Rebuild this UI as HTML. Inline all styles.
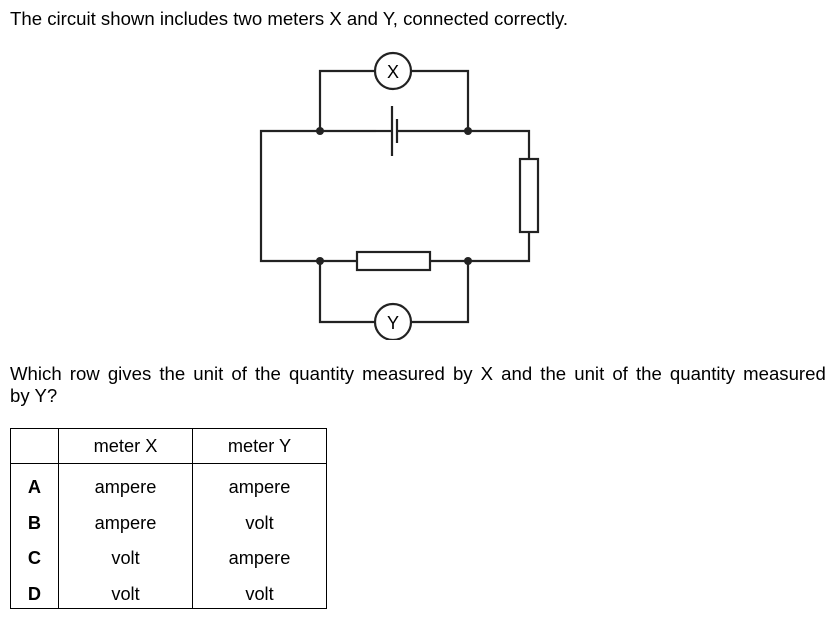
<!DOCTYPE html>
<html><head><style>
body{margin:0;width:840px;height:628px;background:#fff;font-family:"Liberation Sans",sans-serif;color:#000;position:relative;overflow:hidden}
.t{position:absolute;left:10px;font-size:18.6px;white-space:nowrap}
.q{position:absolute;left:10px;width:816px;font-size:18.6px;white-space:nowrap}
table{position:absolute;left:10px;top:428px;border-collapse:collapse;font-size:18.2px}
td{text-align:center;padding:0}
</style></head><body>
<div class="t" style="top:8px">The circuit shown includes two meters X and Y, connected correctly.</div>
<svg style="position:absolute;left:0;top:0" width="840" height="340">
<g stroke="#222" stroke-width="2.2" fill="none">
<polyline points="376,131 261,131 261,261 357,261"/>
<polyline points="430,261 529,261 529,232"/>
<polyline points="529,159 529,131 397,131"/>
<line x1="392" y1="131" x2="376" y2="131"/>
<polyline points="320,131 320,71 375,71"/>
<polyline points="411,71 468,71 468,131"/>
<polyline points="320,261 320,322 375,322"/>
<polyline points="411,322 468,322 468,261"/>
<rect x="520" y="159" width="18" height="73" fill="#fff"/>
<rect x="357" y="252" width="73" height="18" fill="#fff"/>
<circle cx="393" cy="71" r="18" fill="#fff"/>
<circle cx="393" cy="322" r="18" fill="#fff"/>
<line x1="392" y1="106" x2="392" y2="156"/>
<line x1="397" y1="119" x2="397" y2="143"/>
</g>
<g fill="#222"><circle cx="320" cy="131" r="4"/><circle cx="468" cy="131" r="4"/><circle cx="320" cy="261" r="4"/><circle cx="468" cy="261" r="4"/></g>
<text x="393" y="78" font-size="18" text-anchor="middle" font-family="Liberation Sans">X</text>
<text x="393" y="329" font-size="18" text-anchor="middle" font-family="Liberation Sans">Y</text>
</svg>
<div class="q" style="top:363px;display:flex;justify-content:space-between"><span>Which</span><span>row</span><span>gives</span><span>the</span><span>unit</span><span>of</span><span>the</span><span>quantity</span><span>measured</span><span>by</span><span>X</span><span>and</span><span>the</span><span>unit</span><span>of</span><span>the</span><span>quantity</span><span>measured</span></div>
<div class="q" style="top:385px">by Y?</div>
<table>
<tr style="height:35px"><td style="width:47px;border:1px solid #000"></td><td style="width:133px;border:1px solid #000">meter X</td><td style="width:133px;border:1px solid #000">meter Y</td></tr>
<tr style="height:42px;vertical-align:middle"><td style="border-left:1px solid #000;border-right:1px solid #000;font-weight:bold;padding-top:5px">A</td><td style="border-right:1px solid #000;padding-top:5px">ampere</td><td style="border-right:1px solid #000;padding-top:5px">ampere</td></tr>
<tr style="height:35px"><td style="border-left:1px solid #000;border-right:1px solid #000;font-weight:bold">B</td><td style="border-right:1px solid #000">ampere</td><td style="border-right:1px solid #000">volt</td></tr>
<tr style="height:36px"><td style="border-left:1px solid #000;border-right:1px solid #000;font-weight:bold">C</td><td style="border-right:1px solid #000">volt</td><td style="border-right:1px solid #000">ampere</td></tr>
<tr style="height:32px"><td style="border:1px solid #000;border-top:none;font-weight:bold;padding-top:5px">D</td><td style="border:1px solid #000;border-top:none;padding-top:5px">volt</td><td style="border:1px solid #000;border-top:none;padding-top:5px">volt</td></tr>
</table>
</body></html>
